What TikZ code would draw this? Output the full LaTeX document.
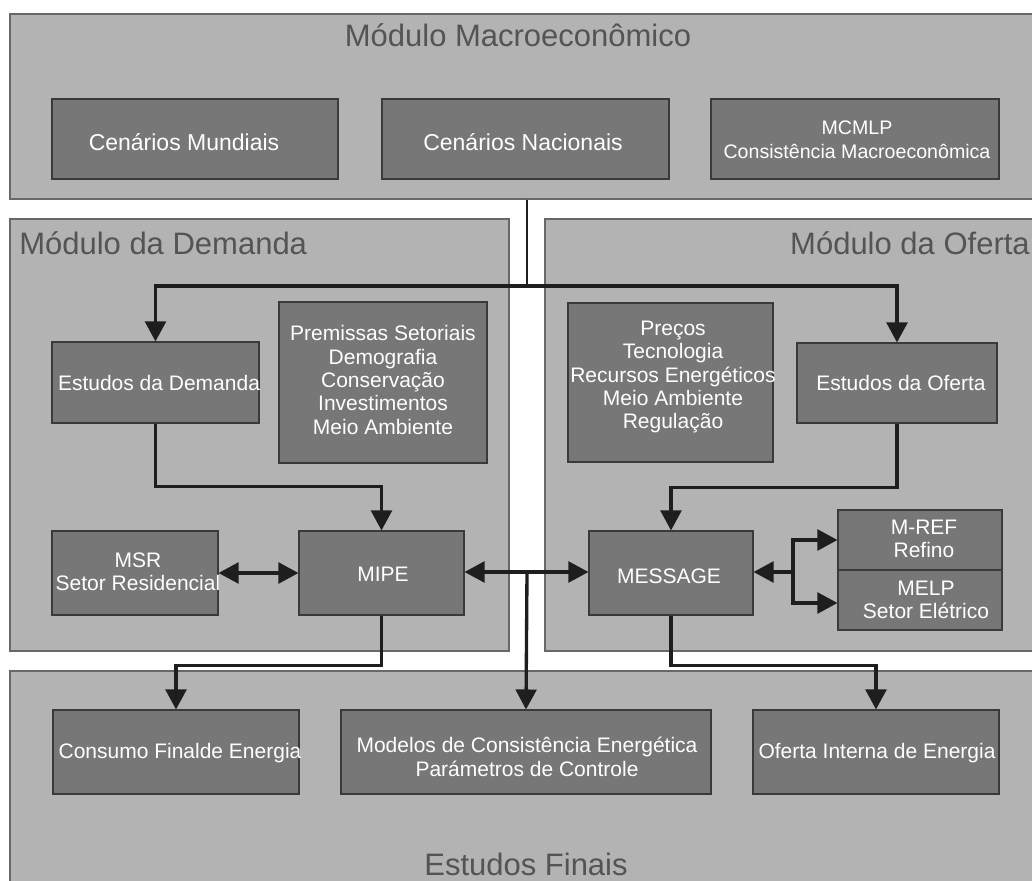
\documentclass[tikz,border=0pt]{standalone}
\usepackage{fontspec}
\setmainfont{Liberation Sans}
\usetikzlibrary{arrows.meta}

\definecolor{panelfill}{HTML}{B3B3B3}
\definecolor{paneledge}{HTML}{686868}
\definecolor{blockfill}{HTML}{777777}
\definecolor{blockedge}{HTML}{3A3A3A}
\definecolor{titlegray}{HTML}{545454}
\definecolor{wire}{HTML}{1E1E1E}

\tikzset{
  panel/.style={draw=paneledge, fill=panelfill, line width=1.1pt},
  blk/.style={draw=blockedge, fill=blockfill, line width=0.8pt},
  ptitle/.style={text=titlegray, inner sep=0pt, font=\fontsize{23.25pt}{26pt}\selectfont},
  btxt/.style={text=white, inner sep=0pt, align=center, font=\fontsize{15.75pt}{17.5pt}\selectfont},
  bigtxt/.style={btxt, font=\fontsize{17.25pt}{19pt}\selectfont},
  smalltxt/.style={btxt, font=\fontsize{14.7pt}{18pt}\selectfont},
  conn/.style={draw=wire, line width=2.5pt},
  thinconn/.style={draw=wire, line width=1.6pt},
  >={Triangle[length=15pt,width=15.5pt]}
}

% rectangle node from its corner coordinates (pixels, y downwards)
\newcommand\areanode[6]{%
  \node[#1, inner sep=0pt, minimum width={(#5-#3)*0.75pt},
        minimum height={(#6-#4)*0.75pt}] (#2) at ({(#3+#5)/2},{(#4+#6)/2}) {};}

\begin{document}
\begin{tikzpicture}[x=0.75pt, y=-0.75pt]
\useasboundingbox (0,0) rectangle (1032,881);
\clip (0,0) rectangle (1032,881);

% module panels
\areanode{panel}{macro}{10}{14}{1045}{199}
\areanode{panel}{demanda}{10}{219}{509}{651}
\areanode{panel}{oferta}{545}{219}{1045}{651}
\areanode{panel}{finais}{10}{671}{1045}{895}

\node[ptitle] (macro-t) at (518,35) {Módulo Macroeconômico};
\node[ptitle, anchor=west] (demanda-t) at (19,243) {Módulo da Demanda};
\node[ptitle, anchor=east] (oferta-t) at (1030,243) {Módulo da Oferta};
\node[ptitle] (finais-t) at (526,864) {Estudos Finais};

% macroeconomic blocks
\areanode{blk}{mundiais}{52}{99}{338}{179}
\areanode{blk}{nacionais}{382}{99}{669}{179}
\areanode{blk}{mcmlp}{711}{99}{999}{179}
\node[bigtxt] (mundiais-t) at (184,142) {Cenários Mundiais};
\node[bigtxt] (nacionais-t) at (523,142) {Cenários Nacionais};
\node[smalltxt] (mcmlp-t) at (857,140) {MCMLP\\Consistência Macroeconômica};

% demand blocks
\areanode{blk}{estdem}{52}{342}{259}{423}
\areanode{blk}{premissas}{279}{302}{487}{463}
\areanode{blk}{msr}{52}{531}{218}{615}
\areanode{blk}{mipe}{299}{531}{464}{615}
\node[btxt] (estdem-t) at (159,383) {Estudos da Demanda};
\node[btxt] (premissas-t) at (383,380) {Premissas Setoriais\\Demografia\\Conservação\\Investimentos\\Meio Ambiente};
\node[btxt] (msr-t) at (138,572) {MSR\\Setor Residencial};
\node[btxt] (mipe-t) at (383,574) {MIPE};

% supply blocks
\areanode{blk}{precos}{568}{303}{773}{462}
\areanode{blk}{estof}{797}{343}{997}{423}
\areanode{blk}{message}{589}{531}{753}{615}
\areanode{blk}{mref}{838}{510}{1002}{570}
\areanode{blk}{melp}{838}{570}{1002}{630}
\node[btxt] (precos-t) at (673,377) {Preços\\Tecnologia\\Recursos Energéticos\\Meio Ambiente\\Regulação};
\node[btxt] (estof-t) at (901,383) {Estudos da Oferta};
\node[btxt] (message-t) at (669,576) {MESSAGE};
\node[btxt] (mref-t) at (924,539) {M-REF\\Refino};
\node[btxt] (melp-t) at (926,600) {MELP\\Setor Elétrico};

% final studies blocks
\areanode{blk}{consumo}{53}{710}{299}{794}
\areanode{blk}{modelos}{341}{710}{711}{794}
\areanode{blk}{ofint}{753}{710}{999}{794}
\node[btxt] (consumo-t) at (180,753) {Consumo Finalde Energia};
\node[btxt] (modelos-t) at (527,757) {Modelos de Consistência Energética\\Parámetros de Controle};
\node[btxt] (ofint-t) at (877,753) {Oferta Interna de Energia};

% junction points
\coordinate (jtop) at (527,286);
\coordinate (jmid) at (527,572);
\coordinate (jsup) at (793,572);

% macro scenarios feed both studies
\draw[thinconn] (macro.south -| jtop) -- (jtop);
\draw[conn,->] (jtop) -| (estdem.north);
\draw[conn,->] (jtop) -| (estof.north);

% studies into the integrating models
\draw[conn,->] (estdem.south) -- ++(0,63) -| (mipe.north);
\draw[conn,->] (estof.south) -- ++(0,64) -| (message.north);

% model exchanges
\draw[conn,<->] (msr.east) -- (mipe.west);
\draw[conn,<->] (mipe.east |- jmid) -- (message.west |- jmid);
\draw[conn,->] (jmid) -- (modelos.north);
\draw[conn,<-] (message.east |- jsup) -- (jsup);
\draw[conn,->] (jsup) |- (mref.west);
\draw[conn,->] (jsup) |- ([yshift=-2.25pt]melp.west);

% results to the final studies
\draw[conn,->] (mipe.south) -- ++(0,50) -| (consumo.north);
\draw[conn,->] (message.south) -- ++(0,50) -| (ofint.north);
\end{tikzpicture}
\end{document}
